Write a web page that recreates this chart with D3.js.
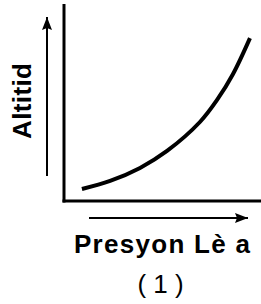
<!DOCTYPE html>
<html><head><meta charset="utf-8">
<script src="https://cdn.jsdelivr.net/npm/d3@7"></script>
<style>html,body{margin:0;padding:0;background:#fff;}svg{display:block;}</style>
</head><body>
<script>
// Data (conceptual, relative units 0..100)
const pressure = [9.1, 23.4, 38.6, 52.3, 69.0, 77.7, 85.8, 94.4];
const altitude = [6.1, 10.2, 16.8, 25.4, 40.1, 51.3, 64.5, 82.7];
const xLabel = "Presyon Lè a";
const yLabel = "Altitid";
const caption = "( 1 )";

const W = 261, H = 304;
const svg = d3.select("body").append("svg").attr("width", W).attr("height", H);

const x = d3.scaleLinear().domain([0, 100]).range([64, 261]);
const y = d3.scaleLinear().domain([0, 100]).range([201, 4]);

const defs = svg.append("defs");
defs.append("marker").attr("id", "ah").attr("viewBox", "0 0 13 10")
  .attr("refX", 13).attr("refY", 5).attr("markerWidth", 13).attr("markerHeight", 10)
  .attr("markerUnits", "userSpaceOnUse").attr("orient", "auto")
  .append("path").attr("d", "M0,0 L13,5 L0,10 L2,5 Z").attr("fill", "#000");

// axes
svg.append("line").attr("x1", x(0)).attr("x2", x(0)).attr("y1", y(100)).attr("y2", y(0) + 1.5)
  .attr("stroke", "#000").attr("stroke-width", 3);
svg.append("line").attr("x1", x(0) - 1.5).attr("x2", x(100)).attr("y1", y(0)).attr("y2", y(0))
  .attr("stroke", "#000").attr("stroke-width", 3);

// curve
const pts = pressure.map((p, i) => [p, altitude[i]]);
svg.append("path").datum(pts)
  .attr("d", d3.line().x(d => x(d[0])).y(d => y(d[1])).curve(d3.curveCatmullRom))
  .attr("fill", "none").attr("stroke", "#000").attr("stroke-width", 4);

// arrows
svg.append("line").attr("x1", 47).attr("x2", 47).attr("y1", 176).attr("y2", 17)
  .attr("stroke", "#000").attr("stroke-width", 2).attr("marker-end", "url(#ah)");
svg.append("line").attr("x1", 89).attr("x2", 248).attr("y1", 218).attr("y2", 218)
  .attr("stroke", "#000").attr("stroke-width", 2).attr("marker-end", "url(#ah)");

// labels
const ff = "Liberation Sans, Arial, sans-serif";
svg.append("text").text(yLabel)
  .attr("transform", "translate(31,101) rotate(-90)")
  .attr("text-anchor", "middle").attr("font-family", ff)
  .attr("font-weight", "bold").attr("font-size", 26)
  .attr("textLength", 76).attr("lengthAdjust", "spacing");
svg.append("text").text(xLabel).attr("x", 162).attr("y", 253)
  .attr("text-anchor", "middle").attr("font-family", ff)
  .attr("font-weight", "bold").attr("font-size", 26)
  .attr("textLength", 176).attr("lengthAdjust", "spacing");
svg.append("text").text(caption).attr("x", 160.5).attr("y", 293)
  .attr("text-anchor", "middle").attr("font-family", ff)
  .attr("font-size", 26);
</script>
</body></html>
